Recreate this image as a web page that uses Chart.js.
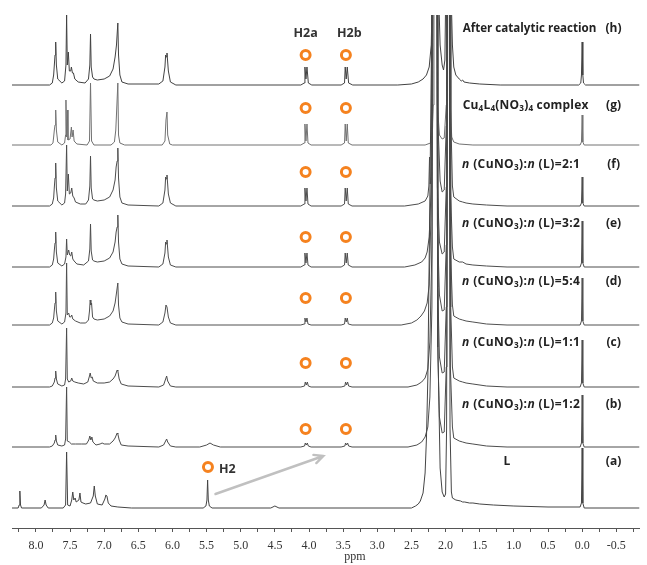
<!DOCTYPE html>
<html>
<head>
<meta charset="utf-8">
<script src="https://cdn.jsdelivr.net/npm/chart.js@4.4.1/dist/chart.umd.min.js"></script>
<style>
  html, body { margin: 0; padding: 0; background: #fff; }
</style>
</head>
<body>
<canvas id="nmr" width="647" height="565"></canvas>
<script>
// spectra, [ppm, intensity]
const specA = [[8.35,0],[8.26,0],[8.245,3],[8.235,17],[8.225,3],[8.21,0],[7.92,0],[7.88,3],[7.865,8],[7.85,3],[7.82,0],[7.6,0],[7.565,3],[7.55,56],[7.535,3],[7.5,2],[7.475,8],[7.46,16],[7.445,8],[7.425,10],[7.41,6],[7.37,8],[7.355,15],[7.34,6],[7.31,5],[7.27,4],[7.2,5],[7.16,12],[7.145,22],[7.13,12],[7.1,4],[7.03,3],[6.99,9],[6.975,13],[6.96,12],[6.94,5],[6.9,2],[6.8,1],[6.6,0],[5.55,0],[5.51,2],[5.495,8],[5.485,28],[5.475,8],[5.46,2],[5.42,0],[4.56,0],[4.5,2],[4.44,0],[2.5,0],[2.44,2],[2.4,4],[2.37,7],[2.33,15],[2.3,35],[2.28,70],[2.26,130],[2.24,250],[2.2,500],[2.16,3000],[2.12,500],[2.11,150],[2.08,40],[2.05,16],[2.02,11],[2.0,14],[1.985,80],[1.975,500],[1.96,3000],[1.945,500],[1.935,80],[1.915,16],[1.9,10],[1.85,8],[1.78,7],[1.75,6],[1.72,6],[1.65,5],[1.6,5],[1.5,4],[1.3,3],[1.0,2],[0.5,1],[0.03,1],[0.01,5],[0.0,60],[-0.01,5],[-0.03,0],[-0.84,0]];
const specB = [[8.35,0],[7.8,0],[7.76,1],[7.73,4],[7.72,7],[7.71,12],[7.7,6],[7.68,2],[7.62,1],[7.58,2],[7.565,8],[7.55,60],[7.54,6],[7.51,5],[7.48,3],[7.42,3],[7.33,3],[7.26,3],[7.225,7],[7.21,11],[7.195,7],[7.18,10],[7.165,5],[7.12,2],[7.06,3],[7.03,4],[7.0,3],[6.92,3],[6.87,6],[6.84,9],[6.81,14],[6.8,13],[6.78,7],[6.75,2],[6.65,1],[6.2,0],[6.13,2],[6.1,6],[6.085,8],[6.07,5],[6.03,1],[5.95,0],[5.6,0],[5.5,2],[5.45,4],[5.4,2],[5.3,0],[4.12,0],[4.065,1],[4.055,4],[4.04,2],[4.025,4],[4.01,1],[3.97,0],[3.53,0],[3.475,1],[3.465,4],[3.45,2],[3.435,4],[3.42,1],[3.37,0],[2.55,0],[2.42,2],[2.35,5],[2.3,10],[2.26,20],[2.23,50],[2.2,140],[2.185,500],[2.155,3000],[2.125,500],[2.115,100],[2.09,30],[2.05,14],[2.02,15],[1.99,80],[1.98,500],[1.96,3000],[1.94,500],[1.93,80],[1.9,20],[1.88,9],[1.8,6],[1.75,5],[1.7,4],[1.6,3],[1.4,1],[1.1,0],[0.03,0],[0.01,4],[0.0,52],[-0.01,4],[-0.03,0],[-0.84,0]];
const specC = [[8.35,0],[7.8,0],[7.76,1],[7.73,5],[7.72,9],[7.71,16],[7.7,8],[7.68,3],[7.62,1],[7.58,2],[7.565,8],[7.55,59],[7.54,8],[7.52,5],[7.49,6],[7.475,9],[7.46,6],[7.43,5],[7.38,4],[7.3,3],[7.24,5],[7.215,11],[7.205,14],[7.19,9],[7.175,10],[7.16,6],[7.1,4],[7.0,4],[6.92,5],[6.87,8],[6.84,11],[6.81,17],[6.8,16],[6.78,8],[6.75,3],[6.65,1],[6.2,0],[6.13,2],[6.1,8],[6.085,11],[6.07,6],[6.03,1],[5.95,0],[4.12,0],[4.065,1],[4.055,5],[4.04,2],[4.025,5],[4.01,1],[3.97,0],[3.53,0],[3.475,1],[3.465,5],[3.45,2],[3.435,5],[3.42,1],[3.37,0],[2.55,0],[2.42,2],[2.35,5],[2.3,9],[2.26,18],[2.23,45],[2.2,140],[2.185,500],[2.155,3000],[2.125,500],[2.115,100],[2.09,30],[2.05,14],[2.02,15],[1.99,80],[1.98,500],[1.955,3000],[1.935,500],[1.925,80],[1.9,20],[1.88,9],[1.8,6],[1.75,5],[1.7,4],[1.6,3],[1.4,1],[1.1,0],[0.03,0],[0.01,4],[0.0,47],[-0.01,4],[-0.03,0],[-0.84,0]];
const specD = [[8.35,0],[7.8,0],[7.76,2],[7.74,7],[7.73,15],[7.72,22],[7.71,33],[7.7,14],[7.68,4],[7.62,1],[7.58,3],[7.56,12],[7.55,62],[7.54,10],[7.52,12],[7.505,8],[7.49,8],[7.475,10],[7.46,6],[7.42,4],[7.35,2],[7.27,2],[7.23,5],[7.215,14],[7.205,25],[7.195,20],[7.185,22],[7.17,8],[7.15,6],[7.1,5],[7.0,6],[6.92,9],[6.87,14],[6.84,22],[6.82,32],[6.8,42],[6.79,20],[6.77,7],[6.74,3],[6.65,1],[6.2,0],[6.14,3],[6.11,12],[6.095,20],[6.08,18],[6.06,8],[6.03,2],[5.95,0],[4.12,0],[4.07,1],[4.06,7],[4.045,3],[4.03,7],[4.015,1],[3.97,0],[3.53,0],[3.48,1],[3.47,7],[3.455,3],[3.44,7],[3.425,1],[3.37,0],[2.65,0],[2.5,2],[2.42,5],[2.36,9],[2.31,14],[2.27,22],[2.24,40],[2.21,120],[2.19,500],[2.16,3000],[2.13,500],[2.12,100],[2.09,30],[2.05,14],[2.02,15],[1.99,80],[1.98,500],[1.96,3000],[1.94,500],[1.93,80],[1.9,20],[1.88,9],[1.8,6],[1.75,5],[1.7,4],[1.6,3],[1.4,1],[1.1,0],[0.03,0],[0.01,4],[0.0,47],[-0.01,4],[-0.03,0],[-0.84,0]];
const specE = [[8.35,0],[7.8,0],[7.76,2],[7.74,8],[7.73,17],[7.72,24],[7.71,35],[7.7,15],[7.68,4],[7.62,1],[7.58,3],[7.56,10],[7.55,28],[7.54,12],[7.52,17],[7.505,12],[7.49,11],[7.475,15],[7.46,8],[7.44,6],[7.4,3],[7.3,2],[7.23,6],[7.21,18],[7.2,43],[7.19,16],[7.17,7],[7.15,6],[7.1,5],[7.0,6],[6.92,9],[6.87,15],[6.84,25],[6.825,35],[6.81,40],[6.8,52],[6.79,25],[6.77,8],[6.74,3],[6.65,1],[6.2,0],[6.14,3],[6.11,14],[6.1,25],[6.09,23],[6.08,27],[6.06,10],[6.03,2],[5.95,0],[4.12,0],[4.07,2],[4.06,14],[4.045,4],[4.03,14],[4.015,2],[3.97,0],[3.53,0],[3.48,2],[3.47,14],[3.455,4],[3.44,14],[3.425,2],[3.37,0],[2.6,0],[2.45,2],[2.35,5],[2.3,9],[2.27,15],[2.24,30],[2.21,80],[2.19,500],[2.16,3000],[2.13,500],[2.12,80],[2.09,25],[2.05,13],[2.02,15],[1.99,80],[1.98,500],[1.96,3000],[1.94,500],[1.93,80],[1.9,20],[1.88,8],[1.8,5],[1.75,5],[1.7,3],[1.6,2],[1.4,1],[1.1,0],[0.03,0],[0.01,4],[0.0,46],[-0.01,4],[-0.03,0],[-0.84,0]];
const specF = [[8.35,0],[7.8,0],[7.76,2],[7.74,8],[7.73,19],[7.72,28],[7.71,43],[7.7,18],[7.68,5],[7.62,1],[7.58,3],[7.565,12],[7.55,61],[7.54,15],[7.525,32],[7.51,12],[7.49,13],[7.475,18],[7.46,10],[7.44,8],[7.42,4],[7.35,2],[7.27,2],[7.23,6],[7.21,20],[7.2,50],[7.19,18],[7.17,7],[7.15,6],[7.1,5],[7.0,6],[6.92,9],[6.87,16],[6.84,26],[6.825,39],[6.81,45],[6.8,58],[6.79,28],[6.77,9],[6.74,3],[6.65,1],[6.2,0],[6.14,3],[6.11,16],[6.1,29],[6.09,27],[6.08,31],[6.06,12],[6.03,3],[5.95,0],[4.12,0],[4.07,2],[4.06,18],[4.045,5],[4.03,18],[4.015,2],[3.97,0],[3.53,0],[3.48,2],[3.47,18],[3.455,5],[3.44,18],[3.425,2],[3.37,0],[2.6,0],[2.4,2],[2.3,5],[2.26,10],[2.245,20],[2.235,49],[2.225,22],[2.21,30],[2.19,80],[2.18,500],[2.15,3000],[2.12,500],[2.11,80],[2.08,25],[2.05,14],[2.02,16],[1.99,80],[1.98,500],[1.955,3000],[1.93,500],[1.92,80],[1.9,20],[1.88,9],[1.8,5],[1.75,4],[1.7,3],[1.6,2],[1.4,1],[1.1,0],[0.03,0],[0.01,3],[0.0,29],[-0.01,3],[-0.03,0],[-0.84,0]];
const specG = [[8.35,0],[7.78,0],[7.75,2],[7.74,8],[7.73,15],[7.72,20],[7.71,35],[7.7,15],[7.68,3],[7.62,0],[7.58,2],[7.565,10],[7.56,45],[7.55,8],[7.54,35],[7.53,5],[7.5,6],[7.48,18],[7.47,8],[7.455,15],[7.44,4],[7.4,1],[7.25,0],[7.215,4],[7.2,62],[7.185,4],[7.15,0],[6.9,0],[6.85,3],[6.83,15],[6.815,38],[6.8,62],[6.79,10],[6.77,2],[6.7,0],[6.15,0],[6.11,4],[6.095,25],[6.08,33],[6.07,10],[6.04,1],[6.0,0],[4.12,0],[4.07,2],[4.06,21],[4.045,4],[4.03,21],[4.015,2],[3.97,0],[3.53,0],[3.48,2],[3.47,21],[3.455,4],[3.44,21],[3.425,2],[3.37,0],[2.3,0],[2.22,2],[2.2,8],[2.18,40],[2.17,500],[2.15,3000],[2.13,500],[2.12,40],[2.09,10],[2.05,6],[2.02,7],[1.99,40],[1.98,500],[1.96,3000],[1.94,500],[1.93,40],[1.91,8],[1.88,3],[1.8,1],[1.6,0],[0.03,0],[0.01,3],[0.0,30],[-0.01,3],[-0.03,0],[-0.84,0]];
const specH = [[8.35,0],[7.8,0],[7.76,2],[7.74,10],[7.73,20],[7.72,30],[7.71,43],[7.7,20],[7.68,6],[7.62,2],[7.58,4],[7.56,20],[7.55,70],[7.54,20],[7.525,33],[7.51,14],[7.49,14],[7.48,18],[7.465,12],[7.45,12],[7.43,6],[7.38,3],[7.28,2],[7.23,6],[7.21,20],[7.2,51],[7.19,18],[7.17,8],[7.15,6],[7.1,5],[7.0,6],[6.92,9],[6.87,16],[6.84,28],[6.82,40],[6.8,62],[6.79,30],[6.77,10],[6.74,3],[6.65,1],[6.2,1],[6.14,4],[6.11,18],[6.1,30],[6.09,28],[6.08,32],[6.06,14],[6.03,3],[5.95,0],[4.12,0],[4.07,2],[4.06,18],[4.045,6],[4.03,18],[4.01,2],[3.96,0],[3.53,0],[3.48,2],[3.47,18],[3.455,6],[3.44,18],[3.42,2],[3.36,0],[2.7,0],[2.5,1],[2.4,3],[2.33,6],[2.28,10],[2.24,18],[2.21,40],[2.19,110],[2.18,500],[2.15,3000],[2.12,500],[2.11,110],[2.08,40],[2.05,20],[2.03,15],[2.01,25],[1.995,110],[1.985,500],[1.96,3000],[1.935,500],[1.925,110],[1.9,40],[1.88,18],[1.85,10],[1.8,6],[1.77,4],[1.75,5],[1.73,3],[1.65,2],[1.5,1],[1.2,0],[0.05,0],[0.02,2],[0.01,10],[0.0,43],[-0.01,10],[-0.02,2],[-0.05,0],[-0.84,0]];

const spectra = [specA, specB, specC, specD, specE, specF, specG, specH];
const baselines = [20, 81, 141, 203, 261, 322, 383, 443];
const lineColors = ['#454545', '#4d4d4d', '#4d4d4d', '#505050', '#4d4d4d', '#4d4d4d', '#727272', '#424242'];

// orange ring markers
const h2Ppm = [4.05, 3.46];
const h2Level = [99, 165, 230, 291, 356, 420, 473];   // (b) .. (h)
const h2Free = [5.48, 61];                             // H2 of free ligand

// right-hand labels
const sampleTags = ['(a)', '(b)', '(c)', '(d)', '(e)', '(f)', '(g)', '(h)'];
const tagLevel = [66, 123, 185, 246, 304, 363, 422, 499];
const ratioText = ['1:2', '1:1', '5:4', '3:2', '2:1'];  // (b) .. (f)

// axis ticks (quarter ppm marks, labels on halves)
const tickValues = [];
for (let v = 8.25; v > -0.8; v -= 0.25) tickValues.push(Math.round(v * 100) / 100);

const arrowFrom = [5.37, 34];
const arrowTo = [3.79, 72];

const datasets = spectra.map((s, i) => ({
    type: 'line',
    data: s.map(p => ({ x: p[0], y: baselines[i] + p[1] })),
    borderColor: lineColors[i],
    borderWidth: 1,
    pointRadius: 0,
    tension: 0,
    order: 2
}));

const ringPts = [];
h2Level.forEach(l => h2Ppm.forEach(p => ringPts.push({ x: p, y: l })));
ringPts.push({ x: h2Free[0], y: h2Free[1] });
datasets.push({
    type: 'scatter',
    data: ringPts,
    pointStyle: 'circle',
    pointRadius: 4.5,
    pointBorderWidth: 3,
    pointBorderColor: '#f5821f',
    pointBackgroundColor: '#ffffff',
    order: 0
});

const SANS = '"Open Sans", "Noto Sans", sans-serif';

// draw a label made of bold / italic / subscript pieces
function richText(ctx, parts, x, y, size, spacing) {
    ctx.textBaseline = 'middle';
    ctx.textAlign = 'left';
    ctx.letterSpacing = (spacing || 0) + 'px';
    parts.forEach(([t, st]) => {
        let dy = 0;
        if (st === 's') { ctx.font = 'bold ' + (size * 0.68) + 'px ' + SANS; dy = 2.5; }
        else if (st === 'i') ctx.font = 'italic bold ' + size + 'px ' + SANS;
        else ctx.font = 'bold ' + size + 'px ' + SANS;
        ctx.fillText(t, x, y + dy);
        x += ctx.measureText(t).width;
    });
    ctx.letterSpacing = '0px';
}

const annotations = {
    id: 'annotations',
    afterDatasetsDraw(chart) {
        const ctx = chart.ctx;
        const xs = chart.scales.x, ys = chart.scales.y;
        const px = v => xs.getPixelForValue(v);
        const py = v => ys.getPixelForValue(v);
        ctx.save();

        // arrow
        const x1 = px(arrowFrom[0]), y1 = py(arrowFrom[1]);
        const x2 = px(arrowTo[0]), y2 = py(arrowTo[1]);
        const ang = Math.atan2(y2 - y1, x2 - x1);
        ctx.strokeStyle = '#c0c0c0';
        ctx.lineWidth = 2.4;
        ctx.lineCap = 'round';
        ctx.beginPath();
        ctx.moveTo(x1, y1); ctx.lineTo(x2, y2);
        ctx.moveTo(x2 - 10 * Math.cos(ang - 0.45), y2 - 10 * Math.sin(ang - 0.45));
        ctx.lineTo(x2, y2);
        ctx.lineTo(x2 - 10 * Math.cos(ang + 0.45), y2 - 10 * Math.sin(ang + 0.45));
        ctx.stroke();

        ctx.fillStyle = '#222';
        // sample descriptions
        richText(ctx, [['After catalytic reaction', 'b']], px(1.75), py(tagLevel[7]), 11.6);
        richText(ctx, [['Cu', 'b'], ['4', 's'], ['L', 'b'], ['4', 's'], ['(NO', 'b'], ['3', 's'], [')', 'b'], ['4', 's'], [' complex', 'b']],
            px(1.75), py(tagLevel[6]), 12, 0.2);
        ratioText.forEach((r, i) => {
            richText(ctx, [['n', 'i'], [' (CuNO', 'b'], ['3', 's'], ['):', 'b'], ['n', 'i'], [' (L)=' + r, 'b']],
                px(1.76), py(tagLevel[i + 1]), 12, 0.4);
        });
        richText(ctx, [['L', 'b']], px(1.15), py(tagLevel[0]), 12);

        ctx.font = 'bold 12px ' + SANS;
        ctx.textAlign = 'center';
        sampleTags.forEach((t, i) => ctx.fillText(t, px(-0.46), py(tagLevel[i])));

        // peak names
        ctx.font = 'bold 12.5px ' + SANS;
        ctx.fillStyle = '#333';
        ctx.fillText('H2a', px(4.05), py(495));
        ctx.fillText('H2b', px(3.41), py(495));
        ctx.textAlign = 'left';
        ctx.fillText('H2', px(5.32), py(59));

        // axis title
        ctx.font = '12px "Liberation Serif", serif';
        ctx.textAlign = 'center';
        ctx.fillStyle = '#333';
        ctx.fillText('ppm', 355, 557);
        ctx.restore();
    }
};

new Chart(document.getElementById('nmr'), {
    data: { datasets },
    options: {
        responsive: false,
        animation: false,
        events: [],
        layout: { padding: { left: 12, right: 0, top: 15, bottom: 0 } },
        plugins: { legend: { display: false }, tooltip: { enabled: false } },
        scales: {
            x: {
                type: 'linear',
                reverse: true,
                min: -0.84,
                max: 8.35,
                border: { display: true, color: '#555', width: 1 },
                grid: { display: true, drawOnChartArea: false, drawTicks: true, tickLength: 4, color: '#555' },
                afterBuildTicks: s => { s.ticks = tickValues.map(v => ({ value: v })); },
                afterFit: s => { s.height = 37; s.paddingLeft = 0; s.paddingRight = 0; },
                ticks: {
                    autoSkip: false,
                    maxRotation: 0,
                    padding: 7,
                    color: '#333',
                    font: { family: '"Liberation Serif", serif', size: 12 },
                    callback: v => (Math.abs(v * 2 - Math.round(v * 2)) < 1e-6 && v <= 8 && v >= -0.5) ? v.toFixed(1) : ''
                }
            },
            y: { display: false, min: 0, max: 513 }
        }
    },
    plugins: [annotations]
});
</script>
</body>
</html>
